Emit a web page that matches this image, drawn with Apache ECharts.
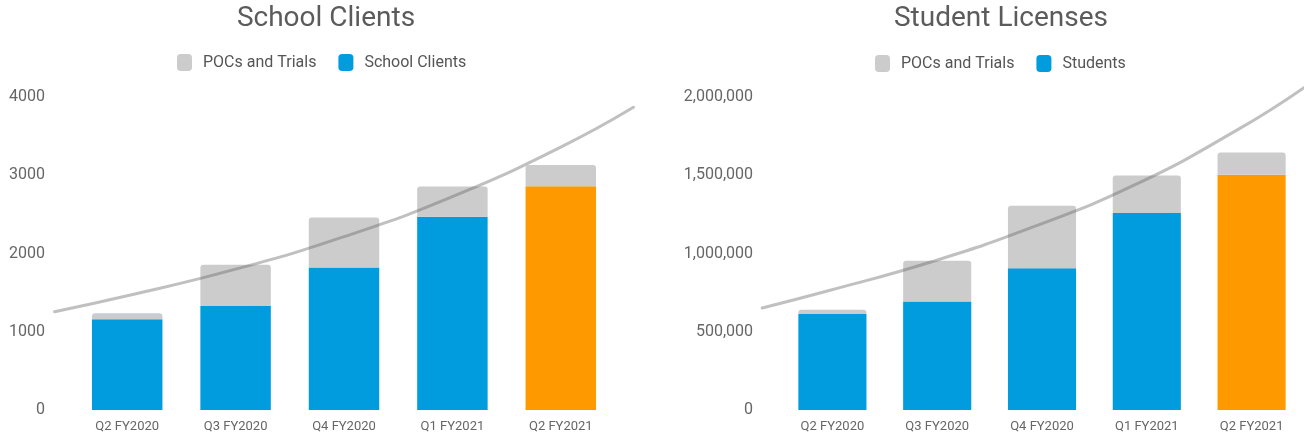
<!DOCTYPE html>
<html>
<head>
<meta charset="utf-8">
<script src="https://cdn.jsdelivr.net/npm/echarts@6/dist/echarts.min.js"></script>
<style>
html,body{margin:0;padding:0;background:#fff;}
#c{width:1304px;height:436px;}
</style>
</head>
<body>
<div id="c"></div>
<script>
// ---- data ----
const categories = ['Q2 FY2020','Q3 FY2020','Q4 FY2020','Q1 FY2021','Q2 FY2021'];

const schoolClients = [1160, 1330, 1820, 2470, 2860];
const schoolPOCs    = [75, 525, 640, 385, 270];
const schoolTrendX  = [-0.67, 0, 1, 2, 3, 4, 4.67];
const schoolTrendY  = [1256, 1460, 1800, 2215, 2726, 3360, 3868];
const schoolTicks   = [0, 1000, 2000, 3000, 4000];

const students      = [614000, 693000, 906000, 1258000, 1503000];
const studentPOCs   = [26000, 260000, 399000, 241000, 143000];
const studentTrendX = [-0.67, 0, 1, 2, 3, 4, 4.67];
const studentTrendY = [652000, 765000, 947000, 1170000, 1438000, 1785000, 2060000];
const studentTicks  = [0, 500000, 1000000, 1500000, 2000000];

// ---- styles / layout ----
const BLUE = '#009CDE', ORANGE = '#FF9900', GREY = '#CCCCCC';
const FONT = 'Roboto';
const G1 = {left:73, width:542};   // left chart plot
const G2 = {left:780, width:525};  // right chart plot
const TX_MIN = -0.67, TX_MAX = 4.67; // trend x extent in category units

function mainData(vals){
  return vals.map((v,i)=> i===vals.length-1 ? {value:v, itemStyle:{color:ORANGE}} : v);
}
function pairs(xs, ys){ return xs.map((x,i)=>[x, ys[i]]); }
function trendGrid(g){
  const step = g.width / categories.length;
  return {left: g.left + (TX_MIN + 0.5) * step, width: (TX_MAX - TX_MIN) * step, top:97, bottom:26};
}

const chart = echarts.init(document.getElementById('c'), null, {renderer:'canvas'});

const catAxis = (gi)=>({
  type:'category', gridIndex:gi, data:categories,
  axisLine:{show:false}, axisTick:{show:false},
  axisLabel:{color:'#666', fontSize:13, fontFamily:FONT, margin:10}
});
const valXAxis = (gi)=>({type:'value', gridIndex:gi, min:TX_MIN, max:TX_MAX, show:false});
const hiddenY = (gi, ticks)=>({type:'value', gridIndex:gi, min:ticks[0], max:ticks[ticks.length-1], show:false});
const lineStyle = {color:'rgba(105,105,105,0.42)', width:3, cap:'round'};
const legendText = {color:'#555', fontSize:16, fontFamily:FONT, padding:[0,0,0,6]};

chart.setOption({
  animation:false,
  textStyle:{fontFamily:FONT},
  graphic:[
    {type:'text', x:326, y:5, style:{text:'School Clients', fontFamily:FONT, fontSize:28, fill:'#5b5b5b', textAlign:'center'}},
    {type:'text', x:1001, y:5, style:{text:'Student Licenses', fontFamily:FONT, fontSize:28, fill:'#5b5b5b', textAlign:'center'}}
  ],
  legend:[
    {left:177, top:54, padding:0, icon:'roundRect', itemWidth:15, itemHeight:17, itemGap:22,
     data:['POCs and Trials','School Clients'], textStyle:legendText, selectedMode:false},
    {left:875, top:55, padding:0, icon:'roundRect', itemWidth:15, itemHeight:17, itemGap:22,
     data:['POCs and Trials','Students'], textStyle:legendText, selectedMode:false}
  ],
  grid:[
    {left:G1.left, width:G1.width, top:97, bottom:26},
    {left:G2.left, width:G2.width, top:97, bottom:26},
    trendGrid(G1),
    trendGrid(G2)
  ],
  xAxis:[catAxis(0), catAxis(1), valXAxis(2), valXAxis(3)],
  yAxis:[
    {type:'value', gridIndex:0, min:schoolTicks[0], max:schoolTicks[schoolTicks.length-1], interval:schoolTicks[1]-schoolTicks[0],
     splitLine:{show:false}, axisLine:{show:false}, axisTick:{show:false},
     axisLabel:{color:'#666', fontSize:16, fontFamily:FONT, margin:28, formatter:(v)=>String(v)}},
    {type:'value', gridIndex:1, min:studentTicks[0], max:studentTicks[studentTicks.length-1], interval:studentTicks[1]-studentTicks[0],
     splitLine:{show:false}, axisLine:{show:false}, axisTick:{show:false},
     axisLabel:{color:'#666', fontSize:16, fontFamily:FONT, margin:27,
       formatter:(v)=>v.toLocaleString('en-US')}},
    hiddenY(2, schoolTicks),
    hiddenY(3, studentTicks)
  ],
  series:[
    {name:'School Clients', type:'bar', xAxisIndex:0, yAxisIndex:0, stack:'s', barWidth:'65%',
     itemStyle:{color:BLUE}, data:mainData(schoolClients)},
    {name:'POCs and Trials', type:'bar', xAxisIndex:0, yAxisIndex:0, stack:'s', barWidth:'65%',
     itemStyle:{color:GREY, borderRadius:[3,3,0,0]}, data:schoolPOCs},
    {name:'trend1', type:'line', xAxisIndex:2, yAxisIndex:2, smooth:true, symbol:'none', clip:false,
     lineStyle:lineStyle, data:pairs(schoolTrendX, schoolTrendY), z:5},
    {name:'Students', type:'bar', xAxisIndex:1, yAxisIndex:1, stack:'t', barWidth:'65%',
     itemStyle:{color:BLUE}, data:mainData(students)},
    {name:'POCs and Trials', type:'bar', xAxisIndex:1, yAxisIndex:1, stack:'t', barWidth:'65%',
     itemStyle:{color:GREY, borderRadius:[3,3,0,0]}, data:studentPOCs},
    {name:'trend2', type:'line', xAxisIndex:3, yAxisIndex:3, smooth:true, symbol:'none', clip:false,
     lineStyle:lineStyle, data:pairs(studentTrendX, studentTrendY), z:5}
  ]
});
</script>
</body>
</html>
